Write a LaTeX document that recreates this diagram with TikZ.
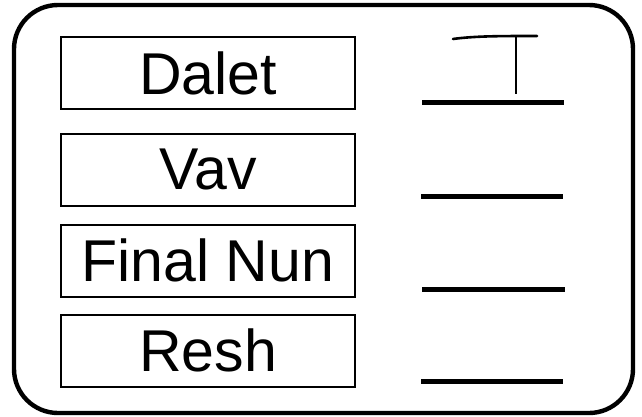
\documentclass[tikz,border=0pt]{standalone}
\usepackage{fontspec}
\setmainfont{Liberation Sans}
\usetikzlibrary{positioning}

\tikzset{
  namebox/.style={draw=black,line width=1pt,minimum width=147pt,minimum height=36pt,
    inner sep=0pt,font=\fontsize{29.5}{31}\selectfont},
  blank/.style={line width=2.5pt},
}

\begin{document}
\begin{tikzpicture}[x=0.5pt,y=-0.5pt]
  \useasboundingbox (0,0) rectangle (642,417);
  % frame
  \draw[line width=2.2pt,rounded corners=22pt] (14,5) rectangle (633,413);

  % names
  \node[namebox] (dalet) at (208,73.5) {Dalet};
  \node[namebox,below=11pt of dalet] (vav) {Vav};
  \node[namebox,below=8.5pt of vav] (nun) {Final Nun};
  \node[namebox,below=8pt of nun] (resh) {Resh};

  % blanks
  \draw[blank] (422,103) -- (564,103);
  \draw[blank] (421,196) -- (563,196);
  \draw[blank] (422,289) -- (565,289);
  \draw[blank] (421,381) -- (563,381);

  % dalet
  \draw[line width=1.3pt,line cap=round] (453,39) .. controls (475,36) and (500,36) .. (537,36);
  \draw[line width=1.3pt] (516,36) -- (516,94);
\end{tikzpicture}
\end{document}
